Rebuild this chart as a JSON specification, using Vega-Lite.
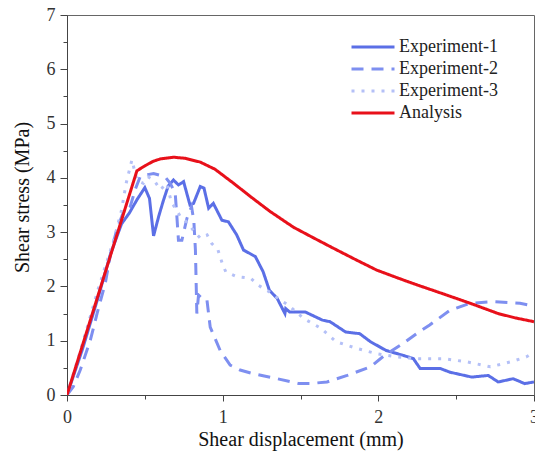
{
  "$schema": "https://vega.github.io/schema/vega-lite/v6.json",
  "width": 467,
  "height": 380,
  "autosize": "none",
  "padding": {"left": 67, "top": 15, "right": 1, "bottom": 59},
  "background": "white",
  "config": {
    "view": {"stroke": "#666", "strokeWidth": 1},
    "axis": {
      "labelFont": "Liberation Serif", "labelFontSize": 18, "labelColor": "#333",
      "titleFont": "Liberation Serif", "titleFontSize": 20, "titleFontWeight": "normal", "titleColor": "#111",
      "domainColor": "#444", "tickColor": "#444", "grid": false
    }
  },
  "data": {"values": [
    {"s":"Experiment-1","x":0,"y":0},{"s":"Experiment-1","x":0.1,"y":0.85},{"s":"Experiment-1","x":0.2,"y":1.8},{"s":"Experiment-1","x":0.28,"y":2.6},{"s":"Experiment-1","x":0.35,"y":3.15},{"s":"Experiment-1","x":0.4,"y":3.35},{"s":"Experiment-1","x":0.45,"y":3.6},{"s":"Experiment-1","x":0.5,"y":3.82},{"s":"Experiment-1","x":0.53,"y":3.62},{"s":"Experiment-1","x":0.556,"y":2.93},{"s":"Experiment-1","x":0.59,"y":3.3},{"s":"Experiment-1","x":0.62,"y":3.59},{"s":"Experiment-1","x":0.65,"y":3.85},{"s":"Experiment-1","x":0.684,"y":3.96},{"s":"Experiment-1","x":0.716,"y":3.87},{"s":"Experiment-1","x":0.749,"y":3.93},{"s":"Experiment-1","x":0.79,"y":3.5},{"s":"Experiment-1","x":0.813,"y":3.53},{"s":"Experiment-1","x":0.856,"y":3.84},{"s":"Experiment-1","x":0.88,"y":3.81},{"s":"Experiment-1","x":0.91,"y":3.44},{"s":"Experiment-1","x":0.94,"y":3.53},{"s":"Experiment-1","x":0.995,"y":3.22},{"s":"Experiment-1","x":1.037,"y":3.19},{"s":"Experiment-1","x":1.09,"y":2.95},{"s":"Experiment-1","x":1.134,"y":2.67},{"s":"Experiment-1","x":1.21,"y":2.55},{"s":"Experiment-1","x":1.26,"y":2.27},{"s":"Experiment-1","x":1.3,"y":1.93},{"s":"Experiment-1","x":1.35,"y":1.78},{"s":"Experiment-1","x":1.4,"y":1.5},{"s":"Experiment-1","x":1.405,"y":1.59},{"s":"Experiment-1","x":1.43,"y":1.53},{"s":"Experiment-1","x":1.53,"y":1.53},{"s":"Experiment-1","x":1.64,"y":1.38},{"s":"Experiment-1","x":1.69,"y":1.35},{"s":"Experiment-1","x":1.79,"y":1.16},{"s":"Experiment-1","x":1.88,"y":1.13},{"s":"Experiment-1","x":1.95,"y":0.98},{"s":"Experiment-1","x":2.05,"y":0.82},{"s":"Experiment-1","x":2.16,"y":0.73},{"s":"Experiment-1","x":2.225,"y":0.67},{"s":"Experiment-1","x":2.268,"y":0.49},{"s":"Experiment-1","x":2.396,"y":0.49},{"s":"Experiment-1","x":2.46,"y":0.42},{"s":"Experiment-1","x":2.6,"y":0.33},{"s":"Experiment-1","x":2.706,"y":0.36},{"s":"Experiment-1","x":2.77,"y":0.24},{"s":"Experiment-1","x":2.866,"y":0.3},{"s":"Experiment-1","x":2.94,"y":0.21},{"s":"Experiment-1","x":3.0,"y":0.24},
    {"s":"Experiment-2","x":0,"y":0},{"s":"Experiment-2","x":0.04,"y":0.15},{"s":"Experiment-2","x":0.085,"y":0.46},{"s":"Experiment-2","x":0.15,"y":1.01},{"s":"Experiment-2","x":0.193,"y":1.5},{"s":"Experiment-2","x":0.246,"y":2.06},{"s":"Experiment-2","x":0.28,"y":2.6},{"s":"Experiment-2","x":0.32,"y":3.05},{"s":"Experiment-2","x":0.36,"y":3.35},{"s":"Experiment-2","x":0.406,"y":3.47},{"s":"Experiment-2","x":0.44,"y":3.8},{"s":"Experiment-2","x":0.47,"y":4.02},{"s":"Experiment-2","x":0.52,"y":4.06},{"s":"Experiment-2","x":0.556,"y":4.08},{"s":"Experiment-2","x":0.63,"y":4.02},{"s":"Experiment-2","x":0.663,"y":3.9},{"s":"Experiment-2","x":0.695,"y":3.72},{"s":"Experiment-2","x":0.706,"y":3.28},{"s":"Experiment-2","x":0.716,"y":2.85},{"s":"Experiment-2","x":0.738,"y":2.85},{"s":"Experiment-2","x":0.77,"y":3.25},{"s":"Experiment-2","x":0.8,"y":3.47},{"s":"Experiment-2","x":0.815,"y":3.2},{"s":"Experiment-2","x":0.825,"y":2.67},{"s":"Experiment-2","x":0.834,"y":1.5},{"s":"Experiment-2","x":0.845,"y":1.84},{"s":"Experiment-2","x":0.877,"y":1.75},{"s":"Experiment-2","x":0.899,"y":1.75},{"s":"Experiment-2","x":0.92,"y":1.25},{"s":"Experiment-2","x":0.984,"y":0.82},{"s":"Experiment-2","x":1.048,"y":0.55},{"s":"Experiment-2","x":1.112,"y":0.46},{"s":"Experiment-2","x":1.2,"y":0.39},{"s":"Experiment-2","x":1.35,"y":0.3},{"s":"Experiment-2","x":1.49,"y":0.21},{"s":"Experiment-2","x":1.56,"y":0.21},{"s":"Experiment-2","x":1.67,"y":0.24},{"s":"Experiment-2","x":1.8,"y":0.36},{"s":"Experiment-2","x":1.95,"y":0.52},{"s":"Experiment-2","x":2.04,"y":0.73},{"s":"Experiment-2","x":2.16,"y":0.95},{"s":"Experiment-2","x":2.26,"y":1.16},{"s":"Experiment-2","x":2.33,"y":1.29},{"s":"Experiment-2","x":2.46,"y":1.56},{"s":"Experiment-2","x":2.59,"y":1.69},{"s":"Experiment-2","x":2.74,"y":1.72},{"s":"Experiment-2","x":2.91,"y":1.69},{"s":"Experiment-2","x":3.0,"y":1.64},
    {"s":"Experiment-3","x":0,"y":0},{"s":"Experiment-3","x":0.1,"y":0.95},{"s":"Experiment-3","x":0.2,"y":1.95},{"s":"Experiment-3","x":0.3,"y":2.85},{"s":"Experiment-3","x":0.35,"y":3.4},{"s":"Experiment-3","x":0.38,"y":3.9},{"s":"Experiment-3","x":0.417,"y":4.33},{"s":"Experiment-3","x":0.45,"y":3.95},{"s":"Experiment-3","x":0.49,"y":3.9},{"s":"Experiment-3","x":0.52,"y":4.02},{"s":"Experiment-3","x":0.56,"y":3.95},{"s":"Experiment-3","x":0.6,"y":3.78},{"s":"Experiment-3","x":0.64,"y":3.9},{"s":"Experiment-3","x":0.67,"y":3.56},{"s":"Experiment-3","x":0.73,"y":3.28},{"s":"Experiment-3","x":0.78,"y":3.16},{"s":"Experiment-3","x":0.82,"y":3.0},{"s":"Experiment-3","x":0.856,"y":2.89},{"s":"Experiment-3","x":0.9,"y":2.95},{"s":"Experiment-3","x":0.93,"y":2.79},{"s":"Experiment-3","x":0.97,"y":2.67},{"s":"Experiment-3","x":1.0,"y":2.4},{"s":"Experiment-3","x":1.02,"y":2.27},{"s":"Experiment-3","x":1.09,"y":2.18},{"s":"Experiment-3","x":1.18,"y":2.15},{"s":"Experiment-3","x":1.23,"y":2.02},{"s":"Experiment-3","x":1.3,"y":1.9},{"s":"Experiment-3","x":1.37,"y":1.75},{"s":"Experiment-3","x":1.42,"y":1.66},{"s":"Experiment-3","x":1.52,"y":1.41},{"s":"Experiment-3","x":1.63,"y":1.23},{"s":"Experiment-3","x":1.73,"y":0.98},{"s":"Experiment-3","x":1.86,"y":0.86},{"s":"Experiment-3","x":1.99,"y":0.76},{"s":"Experiment-3","x":2.12,"y":0.7},{"s":"Experiment-3","x":2.25,"y":0.67},{"s":"Experiment-3","x":2.42,"y":0.67},{"s":"Experiment-3","x":2.57,"y":0.61},{"s":"Experiment-3","x":2.72,"y":0.52},{"s":"Experiment-3","x":2.85,"y":0.61},{"s":"Experiment-3","x":2.95,"y":0.7},{"s":"Experiment-3","x":3.0,"y":0.79},
    {"s":"Analysis","x":0,"y":0},{"s":"Analysis","x":0.449,"y":4.13},{"s":"Analysis","x":0.5,"y":4.22},{"s":"Analysis","x":0.55,"y":4.3},{"s":"Analysis","x":0.6,"y":4.35},{"s":"Analysis","x":0.684,"y":4.38},{"s":"Analysis","x":0.76,"y":4.36},{"s":"Analysis","x":0.856,"y":4.29},{"s":"Analysis","x":0.95,"y":4.16},{"s":"Analysis","x":1.07,"y":3.9},{"s":"Analysis","x":1.19,"y":3.63},{"s":"Analysis","x":1.305,"y":3.38},{"s":"Analysis","x":1.455,"y":3.09},{"s":"Analysis","x":1.58,"y":2.9},{"s":"Analysis","x":1.7,"y":2.72},{"s":"Analysis","x":1.85,"y":2.5},{"s":"Analysis","x":1.99,"y":2.3},{"s":"Analysis","x":2.13,"y":2.15},{"s":"Analysis","x":2.257,"y":2.02},{"s":"Analysis","x":2.42,"y":1.86},{"s":"Analysis","x":2.59,"y":1.69},{"s":"Analysis","x":2.77,"y":1.5},{"s":"Analysis","x":2.88,"y":1.42},{"s":"Analysis","x":3.0,"y":1.35}
  ]},
  "mark": {"type": "line", "strokeWidth": 3, "clip": true},
  "encoding": {
    "x": {"field": "x", "type": "quantitative",
      "scale": {"domain": [0, 3], "nice": false, "zero": false},
      "axis": {"title": "Shear displacement (mm)", "values": [0, 0.5, 1, 1.5, 2, 2.5, 3],
        "labelExpr": "datum.value % 1 === 0 ? format(datum.value, 'd') : ''",
        "tickSize": {"condition": {"test": "datum.value % 1 === 0", "value": 6}, "value": 4},
        "labelPadding": 7, "titlePadding": 3, "labelFlush": false, "labelOverlap": false}},
    "y": {"field": "y", "type": "quantitative",
      "scale": {"domain": [0, 7], "nice": false},
      "axis": {"title": "Shear stress (MPa)", "values": [0, 0.5, 1, 1.5, 2, 2.5, 3, 3.5, 4, 4.5, 5, 5.5, 6, 6.5, 7],
        "labelExpr": "datum.value % 1 === 0 ? format(datum.value, 'd') : ''",
        "tickSize": {"condition": {"test": "datum.value % 1 === 0", "value": 7}, "value": 4},
        "labelPadding": 5, "titlePadding": 14, "titleY": 182, "labelFlush": false, "labelOverlap": false}},
    "color": {"field": "s", "type": "nominal",
      "scale": {"domain": ["Experiment-1", "Experiment-2", "Experiment-3", "Analysis"],
        "range": ["#5b6fe6", "#7e8ff0", "#b4c0f7", "#e8101a"]},
      "legend": {"title": null, "orient": "none", "legendX": 283, "legendY": 21,
        "symbolType": "stroke", "symbolSize": 1849, "symbolStrokeWidth": 3, "clipHeight": 22,
        "labelFont": "Liberation Serif", "labelFontSize": 18, "labelColor": "#222", "labelOffset": 3, "rowPadding": 0}},
    "strokeDash": {"field": "s", "type": "nominal",
      "scale": {"domain": ["Experiment-1", "Experiment-2", "Experiment-3", "Analysis"],
        "range": [[1, 0], [12, 8], [3, 7], [1, 0]]},
      "legend": {"title": null, "orient": "none", "legendX": 283, "legendY": 21,
        "symbolType": "stroke", "symbolSize": 1849, "symbolStrokeWidth": 3, "clipHeight": 22,
        "labelFont": "Liberation Serif", "labelFontSize": 18, "labelColor": "#222", "labelOffset": 3, "rowPadding": 0}},
    "order": {"value": null}
  }
}
